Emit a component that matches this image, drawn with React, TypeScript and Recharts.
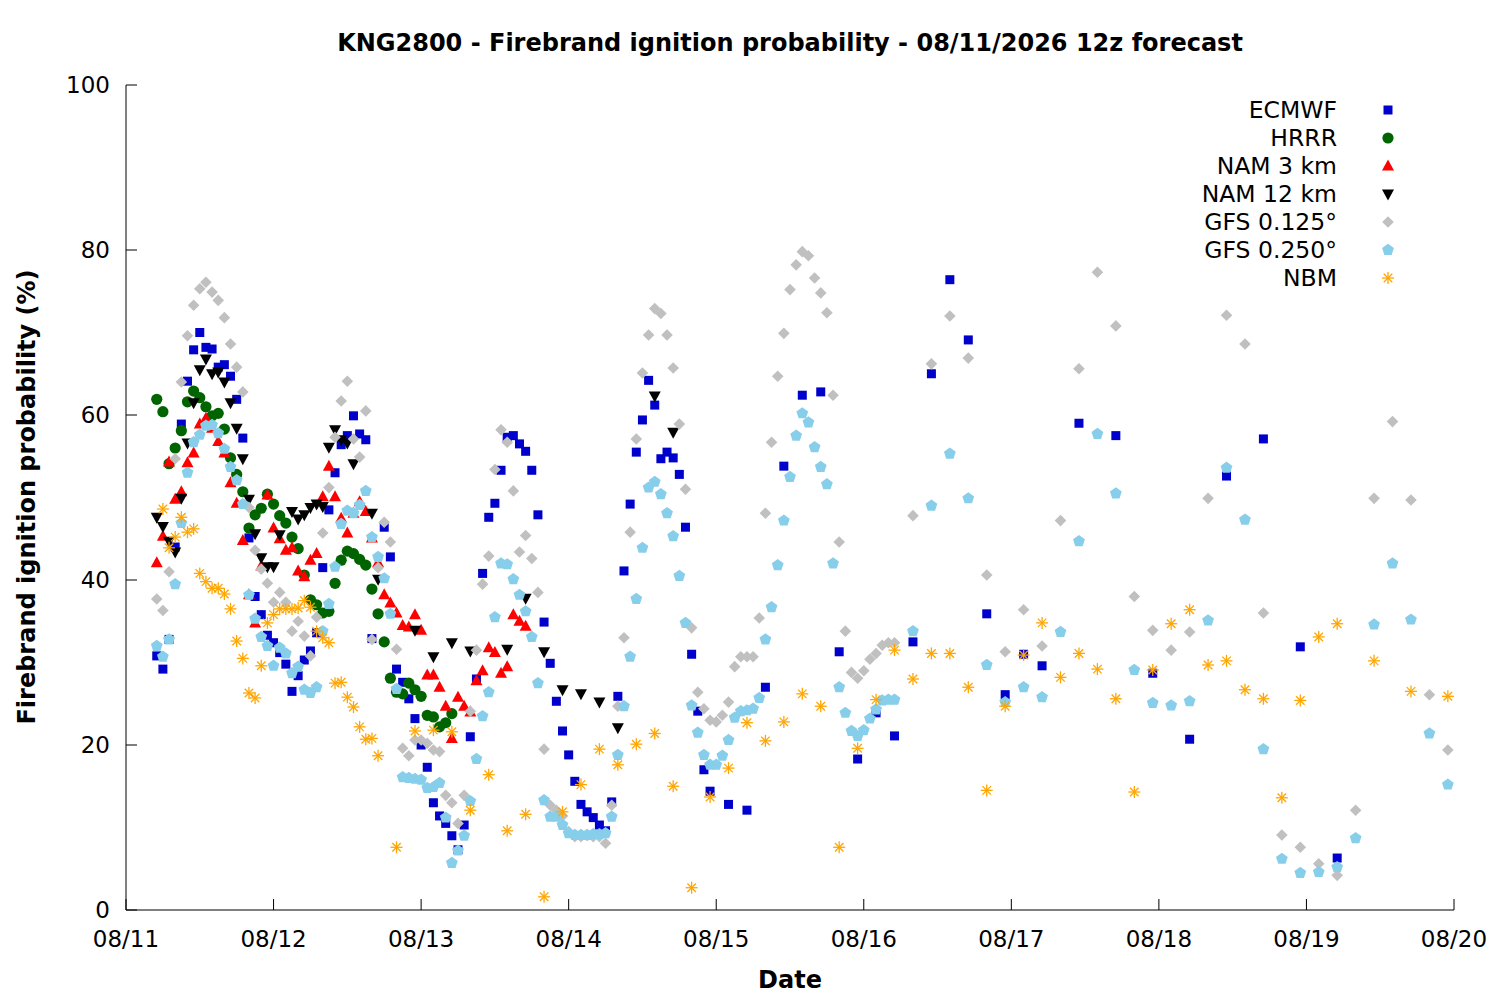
import React from 'react';
import { ScatterChart, Scatter, XAxis, YAxis } from 'recharts';

// ---- axis ticks / labels ----
const dateLabels = ['08/11', '08/12', '08/13', '08/14', '08/15', '08/16', '08/17', '08/18', '08/19', '08/20'];
const dayTicks = [0, 24, 48, 72, 96, 120, 144, 168, 192, 216];
const valueTicks = [0, 20, 40, 60, 80, 100];

// ---- hours since 08/11 00 (local) ----
const ecmwfHours = [
  5, 6, 7, 8, 9, 10, 11, 12, 13, 14, 15, 16, 17, 18, 19, 20, 21, 22, 23, 24, 25, 26, 27, 28, 29, 30, 31, 32, 33, 34, 35, 36, 37, 38, 39, 40,
  42, 43, 44, 45, 46, 47, 48, 49, 50, 51, 52, 53, 54, 55, 56, 57, 58, 59, 60, 61, 62, 63, 64, 65, 66, 67, 68, 69, 70, 71, 72, 73, 74, 75, 76, 77, 78, 79, 80,
  81, 82, 83, 84, 85, 86, 87, 88, 89, 90, 91, 92, 93, 94, 95,
  98, 101, 104, 107, 110, 113, 116, 119, 122, 125, 128, 131, 134, 137, 140, 143, 146, 149,
  155, 161, 167, 173, 179, 185, 191, 197,
];
const ecmwfValues = [
  30.8, 29.2, 32.8, 44, 58.9, 64.1, 67.9, 70.0, 68.2, 68.0, 65.8, 66.1, 64.7, 61.9, 57.2, 45.1, 38.0, 35.8, 33.3, 32.4, 31.2, 29.8, 26.5, 28.4, 30.3, 31.4, 33.6, 41.5, 48.5, 53, 56.4, 57.5, 59.9, 57.7, 57, 32.9,
  46.4, 42.8, 29.2, 27.6, 25.6, 23.2, 20, 17.3, 13, 11.4, 10.5, 9.0, 7.3, 10.3, 21.0, 28.0, 40.8, 47.6, 49.3, 53.3, 57.3, 57.5, 56.5, 55.6, 53.3, 47.9, 34.9, 29.9, 25.3, 21.7, 18.8, 15.6, 12.8, 11.9, 11.2, 10.3, 9.6, 13.1, 25.9,
  41.1, 49.2, 55.5, 59.4, 64.2, 61.2, 54.7, 55.5, 54.8, 52.8, 46.4, 31, 24.1, 17, 14.4,
  12.8, 12.1, 27, 53.8, 62.4, 62.8, 31.3, 18.3, 23.9, 21.1, 32.5, 65, 76.4, 69.1, 35.9, 26.1, 31, 29.6,
  59, 57.5, 28.7, 20.7, 52.6, 57.1, 31.9, 6.3,
];

const hrrrHours = [
  5, 6, 7, 8, 9, 10, 11, 12, 13, 14, 15, 16, 17, 18, 19, 20, 21, 22, 23, 24, 25, 26, 27, 28, 29, 30, 31, 32, 33, 34,
  35, 36, 37, 38, 39, 40, 41, 42, 43, 44, 45, 46, 47, 48, 49, 50, 51, 52, 53,
];
const hrrrValues = [
  61.9, 60.4, 54.1, 56, 58.1, 61.6, 62.9, 62.1, 61, 59.9,
  60.2, 58.3, 54.8, 52.8, 50.7, 46.3, 47.9, 48.7, 50.4, 49.2,
  47.8, 46.9, 45.2, 43.8, 40.6, 37.6, 37, 36, 36.2, 39.6,
  42.4, 43.5, 43.2, 42.5, 41.8, 38.9, 35.9, 32.5, 28.1, 26.4,
  26.2, 27.5, 26.7, 25.9, 23.6, 23.4, 22.2, 22.7, 23.8,
];

const nam3Hours = [
  5, 6, 7, 8, 9, 10, 11, 12, 13, 14, 15, 16, 17, 18, 19, 20, 21, 22, 23, 24, 25, 26, 27, 28, 29, 30, 31, 32, 33, 34,
  35, 36, 37, 38, 39, 40, 41, 42, 43, 44, 45, 46, 47, 48, 49, 50, 51, 52, 53, 54, 55, 56, 57, 58, 59, 60, 61, 62, 63, 64, 65,
];
const nam3Values = [
  42.1, 45.3, 54.3, 49.8, 50.7, 54.2, 55.4, 58.9, 59.6, 58.4,
  56.8, 55.4, 51.8, 49.3, 44.8, 38.2, 34.8, 41.7, 50.3, 46.3,
  45.0, 43.6, 43.9, 41.1, 40.4, 42.4, 43.2, 50.1, 53.8, 50.1,
  47.5, 45.7, 48.1, 49.5, 48.3, 45.1, 42.1, 38.2, 37.2, 36,
  34.5, 34.3, 35.8, 33.9, 28.5, 28.5, 27, 24.7, 20.8, 25.8,
  24.7, 24, 27.8, 29, 31.8, 31.2, 28.7, 29.5, 35.8, 35,
  34.4,
];

const nam12Hours = [
  5, 6, 7, 8, 9, 10, 11, 12, 13, 14, 15, 16, 17, 18, 19, 20, 21, 22, 23, 24, 25,
  27, 28, 29, 30, 31, 32, 33, 34, 35, 36, 37,
  40, 41, 47, 50, 53, 56, 62, 65, 68, 71, 74, 77, 80, 86, 89,
];
const nam12Values = [
  47.6, 46.5, 44.7, 43.4, 49.9, 56.6, 61.5, 65.5, 66.8, 65, 65.2, 64, 61.5, 58.4, 54.7, 49.8, 45.6, 42.7, 41.6, 41.6, 45.5,
  48.3, 47.4, 47.9, 48.8, 49.2, 48.9, 56.1, 58.2, 57, 56.6, 54.1,
  48.1, 40.1, 33.9, 30.7, 32.4, 31.4, 31.6, 37.8, 31.3, 26.7, 26.2, 25.2, 22.1, 62.3, 57.9,
];

const gfsHours = [
  5, 6, 7, 8, 9, 10, 11, 12, 13, 14, 15, 16, 17, 18, 19, 20, 21, 22, 23, 24, 25, 26, 27, 28, 29, 30, 31, 32, 33, 34,
  35, 36, 37, 38, 39, 40, 41, 42, 43, 44, 45, 46, 47, 48, 49, 50, 51, 52, 53, 54, 55, 56, 57, 58, 59, 60, 61, 62, 63, 64,
  65, 66, 67, 68, 69, 70, 71, 72, 73, 74, 75, 76, 77, 78, 79, 80, 81, 82, 83, 84, 85, 86, 87, 88, 89, 90, 91, 92, 93, 94,
  95, 96, 97, 98, 99, 100, 101, 102, 103, 104, 105, 106, 107, 108, 109, 110, 111, 112, 113, 114, 115, 116, 117, 118, 119, 120, 121, 122, 123, 124, 125,
  128, 131, 134, 137, 140, 143, 146, 149, 152, 155, 158, 161, 164, 167, 170, 173, 176, 179, 182, 185, 188, 191, 194, 197, 200, 203, 206, 209, 212, 215,
];
const gfs0125Values = [
  37.7, 36.3, 41, 54.7, 64, 69.6, 73.3, 75.3, 76.1, 74.9,
  73.9, 71.8, 68.6, 65.8, 62.8, 48.8, 43.6, 41.3, 39.6, 37.3,
  38.5, 37.3, 33.8, 35, 33.2, 30.8, 35.5, 45.7, 51.2, 57.3,
  61.7, 64.1, 57.1, 54.9, 60.5, 32.8, 41.5, 47, 44.6, 31.6,
  19.6, 18.7, 20.6, 20.6, 20.2, 19.4, 19.2, 13.9, 13, 10.5,
  13.9, 24.1, 31.5, 39.5, 42.9, 53.4, 58.2, 56.7, 50.8, 43.4,
  45.4, 42.6, 38.5, 19.5, 12.7, 12.1, 11.4, 9.5, 8.9, 8.9,
  9, 8.9, 8.9, 8.1, 12.7, 24.7, 33, 45.8, 57.1, 65.1,
  69.7, 72.9, 72.3, 69.7, 65.7, 58.9, 51, 34.2, 26.4, 24.4,
  23, 22.8, 23.6, 25.2, 29.5, 30.7, 30.7, 30.7, 35.4, 48.1,
  56.7, 64.7, 69.9, 75.2, 78.2, 79.8, 79.3, 76.6, 74.8, 72.4,
  62.4, 44.6, 33.8, 28.8, 28.1, 29, 30.4, 31.1, 32.1, 32.4,
  32.4,
  47.8, 66.2, 72, 66.9, 40.6, 31.3, 36.4, 32, 47.2, 65.6, 77.3, 70.8, 38, 33.9, 31.5,
  33.7, 49.9, 72.1, 68.6, 36, 9.1, 7.6, 5.6, 4.2, 12.1, 49.9, 59.2, 49.7, 26.1, 19.4,
];
const gfs0250Values = [
  32, 30.7, 32.8, 39.5, 46.9, 53, 56.7, 57.6, 58.7, 58.8,
  57.8, 55.9, 53.7, 52.1, 49.2, 38.2, 35.3, 33.1, 32, 29.6,
  31.8, 31.1, 28.7, 29.5, 26.7, 26.3, 27, 33.8, 37.1, 41.6,
  46.8, 48.4, 48.1, 49.1, 50.8, 45.2, 42.8, 40.2, 35.9, 26.8,
  16.1, 16, 15.9, 15.8, 14.8, 14.9, 15.4, 11.2, 5.7, 7.2,
  9, 13.2, 18.3, 23.5, 26.4, 35.5, 42, 41.9, 40.1, 38.2,
  36.2, 33.1, 27.5, 13.3, 11.3, 11.3, 10.3, 9.3, 9.1, 9.1,
  9.1, 9.2, 9.2, 9.3, 11.3, 18.8, 24.7, 30.7, 37.7, 43.9,
  51.2, 51.9, 50.4, 48.1, 45.3, 40.5, 34.8, 24.8, 21.5, 18.8,
  17.6, 17.6, 18.7, 20.6, 23.3, 24.1, 24.2, 24.4, 25.7, 32.8,
  36.7, 41.8, 47.2, 52.5, 57.5, 60.2, 59.1, 56.1, 53.7, 51.6,
  42, 27, 23.9, 21.7, 21.1, 21.8, 23.2, 24.3, 25.4, 25.5,
  25.5,
  33.8, 49, 55.3, 49.9, 29.7, 25.2, 27, 25.8, 33.7, 44.7, 57.7, 50.5, 29.1, 25.1, 24.8,
  25.3, 35.1, 53.6, 47.3, 19.5, 6.2, 4.5, 4.6, 5.2, 8.7, 34.6, 42, 35.2, 21.4, 15.2,
];

const nbmHours = [
  6, 7, 8, 9, 10, 11, 12, 13, 14, 15, 16, 17, 18, 19, 20, 21, 22, 23, 24, 25, 26, 27, 28, 29, 30, 31, 32, 33, 34, 35,
  36, 37, 38, 39, 40, 41,
  44, 47, 50, 53, 56, 59, 62, 65, 68, 71, 74, 77, 80, 83, 86, 89, 92, 95, 98, 101, 104, 107, 110, 113, 116, 119, 122, 125,
  128, 131, 134, 137, 140, 143, 146, 149, 152, 155, 158, 161, 164, 167, 170, 173, 176, 179, 182, 185, 188, 191, 194, 197,
  203, 209, 215,
];
const nbmValues = [
  48.6, 43.9, 45.2, 47.6, 45.8, 46.2, 40.8, 39.8, 39, 39,
  38.3, 36.5, 32.6, 30.5, 26.3, 25.7, 29.6, 34.8, 35.8, 36.5,
  36.5, 36.5, 36.6, 37.5, 36.7, 33.8, 33, 32.4, 27.5, 27.6,
  25.8, 24.6, 22.2, 20.7, 20.8, 18.7,
  7.6, 21.7, 21.8, 21.6, 12.1, 16.4, 9.6, 11.6, 1.6, 11.9, 15.2, 19.5, 17.6, 20.1, 21.4, 15, 2.7, 13.7, 17.2, 22.7, 20.5, 22.8, 26.2, 24.7, 7.6, 19.6, 25.5, 31.5,
  28, 31.1, 31.1, 27, 14.5, 24.7, 30.9, 34.8, 28.2, 31.1, 29.2, 25.6, 14.3, 29.1, 34.7, 36.4, 29.7, 30.2, 26.7, 25.6, 13.6, 25.4, 33.1, 34.7,
  30.2, 26.5, 25.9,
];

const toPoints = (hours: number[], values: number[]) => hours.map((h, i) => ({ h, v: values[i] }));

// ---- markers ----
const FONT = 'DejaVu Sans, Verdana, sans-serif';
const C = {
  ecmwf: '#0000CC',
  hrrr: '#006400',
  nam3: '#FF0000',
  nam12: '#000000',
  gfs0125: '#C0C0C0',
  gfs0250: '#87CEEB',
  nbm: '#FFA500',
};

const SquareM = ({ cx, cy }: any) => <rect x={cx - 4.5} y={cy - 4.5} width={9} height={9} fill={C.ecmwf} />;
const CircleM = ({ cx, cy }: any) => <circle cx={cx} cy={cy} r={5.6} fill={C.hrrr} />;
const TriUpM = ({ cx, cy }: any) => (
  <polygon points={`${cx},${cy - 6.5} ${cx + 6},${cy + 4.5} ${cx - 6},${cy + 4.5}`} fill={C.nam3} />
);
const TriDownM = ({ cx, cy }: any) => (
  <polygon points={`${cx},${cy + 6.5} ${cx + 6},${cy - 4.5} ${cx - 6},${cy - 4.5}`} fill={C.nam12} />
);
const DiamondM = ({ cx, cy }: any) => (
  <polygon points={`${cx},${cy - 5.8} ${cx + 5.8},${cy} ${cx},${cy + 5.8} ${cx - 5.8},${cy}`} fill={C.gfs0125} />
);
const PentagonM = ({ cx, cy }: any) => {
  const r = 6.2;
  const pts = [-90, -18, 54, 126, 198]
    .map((a) => `${cx + r * Math.cos((a * Math.PI) / 180)},${cy + r * Math.sin((a * Math.PI) / 180)}`)
    .join(' ');
  return <polygon points={pts} fill={C.gfs0250} />;
};
const StarM = ({ cx, cy }: any) => {
  const r = 6;
  const d = r * 0.7071;
  return (
    <g stroke={C.nbm} strokeWidth={1.3}>
      <line x1={cx - r} y1={cy} x2={cx + r} y2={cy} />
      <line x1={cx} y1={cy - r} x2={cx} y2={cy + r} />
      <line x1={cx - d} y1={cy - d} x2={cx + d} y2={cy + d} />
      <line x1={cx - d} y1={cy + d} x2={cx + d} y2={cy - d} />
    </g>
  );
};

const seriesDefs = [
  { name: 'ECMWF', data: toPoints(ecmwfHours, ecmwfValues), Shape: SquareM },
  { name: 'HRRR', data: toPoints(hrrrHours, hrrrValues), Shape: CircleM },
  { name: 'NAM 3 km', data: toPoints(nam3Hours, nam3Values), Shape: TriUpM },
  { name: 'NAM 12 km', data: toPoints(nam12Hours, nam12Values), Shape: TriDownM },
  { name: 'GFS 0.125°', data: toPoints(gfsHours, gfs0125Values), Shape: DiamondM },
  { name: 'GFS 0.250°', data: toPoints(gfsHours, gfs0250Values), Shape: PentagonM },
  { name: 'NBM', data: toPoints(nbmHours, nbmValues), Shape: StarM },
];

// ---- ticks (inward tick marks like gnuplot) ----
const TICK = 11;
const TICK_FONT = 23;
const BottomTick = ({ x, y, payload }: any) => (
  <g>
    <line x1={x} y1={y} x2={x} y2={y - TICK} stroke="#000" strokeWidth={1} />
    <text x={x} y={y + 29} textAnchor="middle" dominantBaseline="central" fontSize={TICK_FONT} fontFamily={FONT} fill="#000">
      {dateLabels[dayTicks.indexOf(payload.value)]}
    </text>
  </g>
);
const TopTick = ({ x, y }: any) => (
  <line x1={x} y1={y} x2={x} y2={y + TICK} stroke="#000" strokeWidth={1} />
);
const LeftTick = ({ x, y, payload }: any) => (
  <g>
    <line x1={x} y1={y} x2={x + TICK} y2={y} stroke="#000" strokeWidth={1} />
    <text x={x - 16} y={y} textAnchor="end" dominantBaseline="central" fontSize={TICK_FONT} fontFamily={FONT} fill="#000">
      {payload.value}
    </text>
  </g>
);
const RightTick = ({ x, y }: any) => (
  <line x1={x} y1={y} x2={x - TICK} y2={y} stroke="#000" strokeWidth={1} />
);

const legendRows = seriesDefs.map((s, i) => ({ ...s, y: 110 + i * 28 }));

export default function App() {
  return (
    <div style={{ position: 'absolute', left: 0, top: 0, width: 1500, height: 1000, background: '#fff' }}>
      <ScatterChart width={1500} height={1000} margin={{ top: 85, right: 46, bottom: 30, left: 60 }}>
        <XAxis
          xAxisId="b"
          type="number"
          dataKey="h"
          domain={[0, 216]}
          ticks={dayTicks}
          interval={0}
          allowDataOverflow
          height={60}
          tickSize={0}
          tickMargin={0}
          tickLine={false}
          axisLine={{ stroke: '#000', strokeWidth: 1 }}
          tick={<BottomTick />}
        />
        <XAxis
          xAxisId="t"
          orientation="top"
          type="number"
          dataKey="h"
          domain={[0, 216]}
          ticks={dayTicks}
          interval={0}
          height={0}
          tickSize={0}
          tickMargin={0}
          tickLine={false}
          axisLine={{ stroke: '#000', strokeWidth: 1 }}
          tick={<TopTick />}
        />
        <YAxis
          yAxisId="l"
          type="number"
          dataKey="v"
          domain={[0, 100]}
          ticks={valueTicks}
          interval={0}
          allowDataOverflow
          width={66}
          tickSize={0}
          tickMargin={0}
          tickLine={false}
          axisLine={{ stroke: '#000', strokeWidth: 1 }}
          tick={<LeftTick />}
        />
        <YAxis
          yAxisId="r"
          orientation="right"
          type="number"
          dataKey="v"
          domain={[0, 100]}
          ticks={valueTicks}
          interval={0}
          width={0}
          tickSize={0}
          tickMargin={0}
          tickLine={false}
          axisLine={{ stroke: '#000', strokeWidth: 1 }}
          tick={<RightTick />}
        />
        {seriesDefs.map((s) => (
          <Scatter
            key={s.name}
            name={s.name}
            data={s.data}
            xAxisId="b"
            yAxisId="l"
            isAnimationActive={false}
            shape={(p: any) => <s.Shape cx={p.cx} cy={p.cy} />}
          />
        ))}
      </ScatterChart>
      <svg
        width={1500}
        height={1000}
        style={{ position: 'absolute', left: 0, top: 0, pointerEvents: 'none' }}
      >
        <text x={790} y={43} textAnchor="middle" dominantBaseline="central" fontSize={24} fontWeight="bold" fontFamily={FONT} fill="#000">
          KNG2800 - Firebrand ignition probability - 08/11/2026 12z forecast
        </text>
        <text x={790} y={980} textAnchor="middle" dominantBaseline="central" fontSize={24} fontWeight="bold" fontFamily={FONT} fill="#000">
          Date
        </text>
        <text
          x={27}
          y={497}
          transform="rotate(-90 27 497)"
          textAnchor="middle"
          dominantBaseline="central"
          fontSize={24}
          fontWeight="bold"
          fontFamily={FONT}
          fill="#000"
        >
          Firebrand ignition probability (%)
        </text>
        {legendRows.map((r) => (
          <g key={r.name}>
            <text x={1337} y={r.y} textAnchor="end" dominantBaseline="central" fontSize={23.5} fontFamily={FONT} fill="#000">
              {r.name}
            </text>
            <r.Shape cx={1388} cy={r.y} />
          </g>
        ))}
      </svg>
    </div>
  );
}
